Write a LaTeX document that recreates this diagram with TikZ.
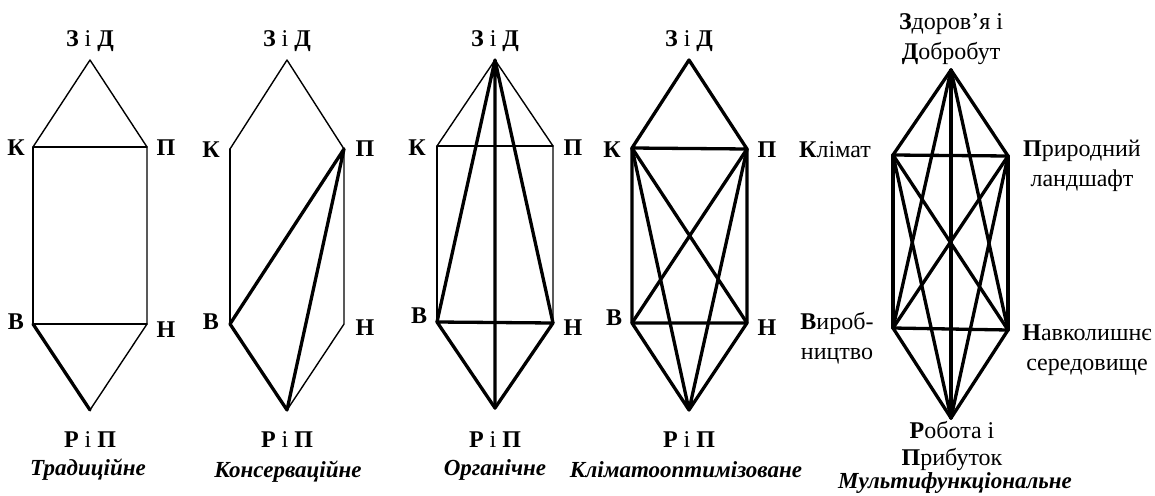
\documentclass[tikz,border=0pt]{standalone}
\usepackage{fontspec}
\setmainfont{Liberation Serif}
\begin{document}
\begin{tikzpicture}[x=1pt,y=-1pt,
  ln/.style={line width=1.4pt,line cap=round,line join=round},
  lk/.style={line width=3.3pt,line cap=round,line join=round},
  lab/.style={font=\fontsize{24}{28}\selectfont\bfseries,inner sep=0pt},
  mlab/.style={font=\fontsize{24}{30}\selectfont,inner sep=0pt,align=center},
  ttl/.style={font=\fontsize{23}{26}\selectfont\bfseries\itshape,inner sep=0pt}]
\useasboundingbox (0,0) rectangle (1155,495);
% ---------- Diagram 1 ----------
\coordinate (aZ) at (90,60);
\coordinate (aK) at (33,147);
\coordinate (aP) at (147,147);
\coordinate (aB) at (33,324);
\coordinate (aH) at (147,324);
\coordinate (aR) at (90,410);
\draw[ln] (aK) -- (aZ) -- (aP) -- (aH) -- (aR);
\draw[ln] (aK) -- (aP) (aK) -- (aB) -- (aH);
\draw[lk] (aB) -- (aR);
\node[lab] (aZl) at (90,41) {З {\mdseries і} Д};
\node[lab] (aKl) at (16,148) {К};
\node[lab] (aPl) at (166,148) {П};
\node[lab] (aBl) at (16,322) {В};
\node[lab] (aHl) at (166,330) {Н};
\node[lab] (aRl) at (90,440) {Р {\mdseries і} П};
\node[ttl] (aT) at (88,470) {Традиційне};
% ---------- Diagram 2 ----------
\coordinate (bZ) at (287,60);
\coordinate (bK) at (230,149);
\coordinate (bP) at (344,149);
\coordinate (bB) at (230,324);
\coordinate (bH) at (344,324);
\coordinate (bR) at (287,410);
\draw[ln] (bK) -- (bZ) -- (bP) -- (bH) -- (bR);
\draw[ln] (bK) -- (bB);
\draw[lk] (bP) -- (bB) -- (bR) -- (bP);
\node[lab] (bZl) at (287,41) {З {\mdseries і} Д};
\node[lab] (bKl) at (211,150) {К};
\node[lab] (bPl) at (365,149) {П};
\node[lab] (bBl) at (211,322) {В};
\node[lab] (bHl) at (365,328) {Н};
\node[lab] (bRl) at (287,440) {Р {\mdseries і} П};
\node[ttl] (bT) at (288,472) {Консерваційне};
% ---------- Diagram 3 ----------
\coordinate (cZ) at (495,60);
\coordinate (cK) at (437,146);
\coordinate (cP) at (553,146);
\coordinate (cB) at (437,322);
\coordinate (cH) at (553,323);
\coordinate (cR) at (495,408);
\draw[ln] (cK) -- (cZ) -- (cP) -- (cH);
\draw[ln] (cK) -- (cP) (cK) -- (cB);
\draw[lk] (cB) -- (cZ) -- (cH) (cZ) -- (cR);
\draw[lk] (cB) -- (cH) -- (cR) -- (cB);
\node[lab] (cZl) at (495,41) {З {\mdseries і} Д};
\node[lab] (cKl) at (417,148) {К};
\node[lab] (cPl) at (573,148) {П};
\node[lab] (cBl) at (419,316) {В};
\node[lab] (cHl) at (573,328) {Н};
\node[lab] (cRl) at (495,440) {Р {\mdseries і} П};
\node[ttl] (cT) at (495,470) {Органічне};
% ---------- Diagram 4 ----------
\coordinate (dZ) at (689,60);
\coordinate (dK) at (632,148);
\coordinate (dP) at (747,149);
\coordinate (dB) at (632,323);
\coordinate (dH) at (747,323);
\coordinate (dR) at (689,410);
\draw[lk] (dK) -- (dZ) -- (dP) -- (dH) -- (dB) -- (dK) -- (dP);
\draw[lk] (dK) -- (dH) (dP) -- (dB);
\draw[lk] (dK) -- (dR) -- (dP) (dB) -- (dR) -- (dH);
\node[lab] (dZl) at (689,41) {З {\mdseries і} Д};
\node[lab] (dKl) at (612,150) {К};
\node[lab] (dPl) at (767,150) {П};
\node[lab] (dBl) at (614,318) {В};
\node[lab] (dHl) at (767,328) {Н};
\node[lab] (dRl) at (689,440) {Р {\mdseries і} П};
\node[ttl] (dT) at (686,470) {Кліматооптимізоване};
% ---------- Diagram 5 ----------
\coordinate (eZ) at (951,70);
\coordinate (eK) at (893,155);
\coordinate (eP) at (1008,156);
\coordinate (eB) at (893,328);
\coordinate (eH) at (1008,330);
\coordinate (eR) at (951,418);
\foreach \u/\v in {eZ/eK,eZ/eP,eZ/eB,eZ/eH,eZ/eR,eK/eP,eK/eB,eK/eH,eK/eR,eP/eB,eP/eH,eP/eR,eB/eH,eB/eR,eH/eR}
  \draw[lk] (\u) -- (\v);
\node[mlab] (eZl) at (951,39) {{\bfseries З}доров’я і\\{\bfseries Д}обробут};
\node[mlab] (eKl) at (835,150) {{\bfseries К}лімат};
\node[mlab] (ePl) at (1082,166) {{\bfseries П}риродний\\ландшафт};
\node[mlab] (eBl) at (837,338) {{\bfseries В}ироб-\\ництво};
\node[mlab] (eHl) at (1087,350) {{\bfseries Н}авколишнє\\середовище};
\node[mlab,font=\fontsize{24}{27}\selectfont] (eRl) at (952,446) {{\bfseries Р}обота і\\{\bfseries П}рибуток};
\node[ttl] (eT) at (955,483) {Мультифункціональне};
\end{tikzpicture}
\end{document}
